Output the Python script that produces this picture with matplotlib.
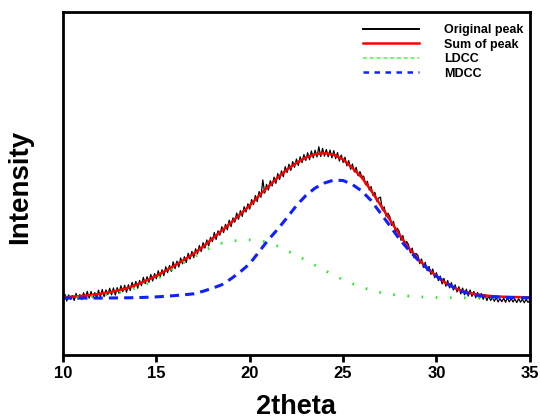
import matplotlib
matplotlib.use("Agg")
import matplotlib.pyplot as plt
from matplotlib.lines import Line2D
import numpy as np

plt.rcParams['font.family'] = ['Liberation Sans', 'DejaVu Sans']

# smooth curves, 0.5 step from 10 to 35
x_fit = np.arange(10, 35.01, 0.5)
sum_peak = [57.5, 58.2, 58.8, 59.8, 61, 62.5, 64.5, 67, 70.5, 74.5, 79, 84, 89.5, 95, 101,
            108, 116, 124, 132, 140.5, 149, 159, 168, 177, 185, 191.5, 197, 200.3,
            201.3, 199.8, 195, 186.5, 177, 164, 149.5, 135, 120.5, 107, 96, 86.5, 78.5, 71.5,
            66.5, 63, 60.8, 59.5, 58.6, 58.1, 57.8, 57.6, 57.4]
ldcc = [57, 57.3, 57.7, 58.3, 59.2, 60.5, 62.2, 64.5, 67.5, 71, 75.5, 81, 87, 92.5, 97.5,
        103, 108, 111.5, 113.5, 114.5, 114.8, 114.2, 112, 108.5, 104, 99.5, 94.5, 89.5, 84.5,
        79.5, 75, 71, 67.5, 64.5, 62.3, 60.5, 59.5, 58.7, 58, 57.6, 57.3, 57.1, 57, 57,
        57, 57, 57, 57, 57, 57, 57]
mdcc = [56.7, 56.7, 56.7, 56.7, 56.7, 56.8, 56.9, 57, 57.2, 57.5, 57.9, 58.5, 59.2, 60,
        61, 63.5, 66.5, 70, 76, 83, 91, 103, 115, 125.5, 137, 149, 159, 166.5, 171.5,
        174.5, 174, 170, 163.5, 154, 141.5, 129, 116, 105, 95, 86.5, 78.5, 72, 66.5, 62.5,
        60, 58.7, 58, 57.5, 57.2, 57, 56.9]

# original measured peak, 0.1 step from 10 to 35
x_orig = np.round(np.arange(10, 35.001, 0.1), 2)
original = [
    54.5, 60.6, 53.8, 59.9, 55.6, 59.2, 54.3, 61.4, 55.6, 60.2,
    55.3, 62.0, 57.2, 63.4, 56.6, 63.3, 57.0, 62.2, 56.4, 64.6,
    58.0, 65.3, 58.1, 64.9, 60.2, 66.5, 59.9, 66.8, 59.7, 67.1,
    61.5, 69.0, 63.0, 69.5, 62.5, 70.0, 64.2, 72.4, 67.1, 73.3,
    66.5, 74.3, 69.1, 77.4, 71.2, 78.0, 72.4, 80.3, 73.7, 81.1,
    76.0, 84.0, 77.5, 85.0, 79.0, 88.0, 82.1, 89.2, 83.3, 92.9,
    86.0, 93.6, 87.7, 96.8, 90.9, 98.0, 92.2, 101.4, 95.6, 103.3,
    97.0, 105.9, 100.8, 109.2, 103.1, 112.0, 106.6, 114.7, 108.8, 117.4,
    113.0, 122.1, 115.2, 123.8, 119.4, 128.0, 122.1, 130.2, 124.8, 134.4,
    128.0, 136.7, 132.4, 141.6, 135.3, 144.0, 138.2, 147.9, 142.6, 150.8,
    145.5, 155.0, 150.0, 159.0, 153.0, 163.0, 157.3, 174.6, 161.4, 170.2,
    164.5, 173.8, 168.6, 177.4, 171.2, 181.0, 175.1, 183.7, 177.8, 187.9,
    182.0, 190.3, 184.1, 192.9, 187.2, 195.5, 189.1, 197.7, 191.8, 199.9,
    194.0, 201.7, 194.8, 203.5, 196.6, 204.3, 197.5, 207.7, 197.9, 206.1,
    198.3, 205.0, 197.7, 204.4, 196.6, 203.8, 195.8, 201.9, 193.4, 199.5,
    192.0, 197.3, 188.6, 193.9, 185.2, 190.5, 182.6, 187.2, 178.8, 182.9,
    178.0, 178.4, 169.8, 173.2, 164.6, 168.0, 159.1, 162.2, 153.3, 156.4,
    157.5, 144.6, 147.7, 138.3, 141.4, 138.0, 129.1, 133.2, 122.8, 126.4,
    123.5, 114.3, 119.1, 109.4, 113.2, 110.0, 101.8, 106.6, 96.9, 101.2,
    99.5, 91.1, 95.7, 87.3, 92.4, 84.0, 88.4, 80.3, 85.7, 77.1,
    82.0, 74.1, 78.7, 70.8, 76.4, 68.5, 74.2, 66.9, 72.1, 64.8,
    70.0, 62.8, 68.1, 60.9, 66.7, 60.0, 65.6, 58.7, 64.8, 58.4,
    63.3, 57.0, 62.3, 56.0, 61.3, 55.5, 59.9, 54.2, 59.1, 54.4,
    57.1, 53.5, 57.4, 52.8, 56.2, 53.1, 56.6, 52.5, 57.0, 52.9,
    56.3, 52.8, 55.7, 52.2, 56.1, 52.6, 55.6, 52.0, 55.5, 52.4,
    54.4]

x_ticks = [10, 15, 20, 25, 30, 35]
labels = ['Original peak', 'Sum of peak', 'LDCC', 'MDCC']

fig = plt.figure(figsize=(5.4, 4.2), dpi=100)
ax = fig.add_axes([0.1167, 0.155, 0.8645, 0.816])

ax.plot(x_orig, original, color='black', lw=0.9)
ax.plot(x_fit, sum_peak, color='#ff0000', lw=1.8)
ax.plot(x_fit, ldcc, color='#22ee22', lw=2.0, linestyle=(0, (0.6, 4.5)))
ax.plot(x_fit, mdcc, color='#1020ff', lw=2.2, linestyle=(0, (3, 2)))

ax.set_xlim(10, 35)
ax.set_ylim(0, 342)
ax.set_xticks(x_ticks)
ax.set_xticklabels([str(t) for t in x_ticks], fontsize=12, fontweight='bold')
ax.set_yticks([])
ax.tick_params(axis='x', direction='out', length=5, width=2, pad=3)
for s in ax.spines.values():
    s.set_linewidth(2)
ax.set_xlabel('2theta', fontsize=19.5, fontweight='bold', labelpad=9)
ax.set_ylabel('Intensity', fontsize=20, fontweight='bold')
ax.yaxis.set_label_coords(-0.064, 0.49)

handles = [Line2D([], [], color='black', lw=1.4),
           Line2D([], [], color='#ff0000', lw=1.8),
           Line2D([], [], color='#66ff66', lw=1.4, linestyle=(0, (2, 1.5))),
           Line2D([], [], color='#1020ff', lw=1.8, linestyle=(0, (2.2, 2.2)))]
leg = ax.legend(handles, labels, loc='upper right', bbox_to_anchor=(0.991, 0.973),
                frameon=False, prop={'size': 9, 'weight': 'bold'},
                handlelength=4.5, handletextpad=2.0, labelspacing=0.21,
                borderaxespad=0.0, borderpad=0.2)

fig.savefig('out.png', dpi=100)
